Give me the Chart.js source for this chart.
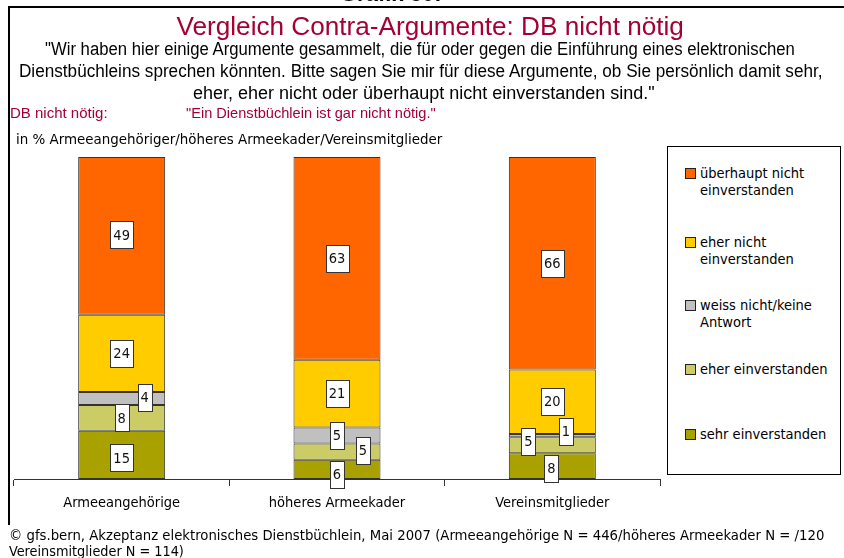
<!DOCTYPE html>
<html><head><meta charset="utf-8">
<script src="https://cdn.jsdelivr.net/npm/chart.js@4.4.1/dist/chart.umd.min.js"></script>
<style>
html,body{margin:0;padding:0;background:#fff;}
body{width:844px;height:558px;position:relative;overflow:hidden;}
#c{position:absolute;left:0;top:0;}
.t{position:absolute;white-space:nowrap;font-family:"Liberation Sans",Arial,sans-serif;color:#000;line-height:1;}
.tah{font-family:"DejaVu Sans Condensed","DejaVu Sans",sans-serif;font-stretch:condensed;}
.frameTop{position:absolute;left:8px;top:6px;width:836px;height:2px;background:#000;}
.frameLeft{position:absolute;left:8px;top:6px;width:2px;height:519px;background:#000;}
#legend{position:absolute;left:667px;top:146px;width:174px;height:329px;border:1px solid #000;box-sizing:border-box;background:#fff;}
.li{position:absolute;left:17px;font-family:"DejaVu Sans Condensed","DejaVu Sans",sans-serif;font-stretch:condensed;font-size:14.5px;line-height:17px;color:#000;}
.sw{position:absolute;left:0;top:3px;width:9px;height:9px;border:1px solid #222;}
.lt{position:absolute;left:15px;top:0;white-space:nowrap;}
</style></head><body>
<canvas id="c" width="844" height="558"></canvas>
<div class="frameTop"></div><div class="frameLeft"></div>
<div class="t" style="left:340px;top:-17px;font-weight:bold;font-size:22px;">Grafik 30:</div>
<div class="t fit" data-cx="429.5" data-w="507" style="top:13px;font-size:26px;color:#A50034;">Vergleich Contra-Argumente: DB nicht nötig</div>
<div class="t fit" data-cx="420" data-w="750" style="top:40px;font-size:18px;">"Wir haben hier einige Argumente gesammelt, die für oder gegen die Einführung eines elektronischen</div>
<div class="t fit" data-cx="420.5" data-w="803" style="top:62px;font-size:18px;">Dienstbüchleins sprechen könnten. Bitte sagen Sie mir für diese Argumente, ob Sie persönlich damit sehr,</div>
<div class="t fit" data-cx="424" data-w="462" style="top:84px;font-size:18px;">eher, eher nicht oder überhaupt nicht einverstanden sind."</div>
<div class="t" style="left:10px;top:105px;font-size:15px;color:#A50034;">DB nicht nötig:</div>
<div class="t fit" data-l="186" data-w="250" style="top:105px;font-size:15px;color:#A50034;">"Ein Dienstbüchlein ist gar nicht nötig."</div>
<div class="t tah fit" data-l="16" data-w="426" style="top:132px;font-size:14.5px;">in % Armeeangehöriger/höheres Armeekader/Vereinsmitglieder</div>
<div class="t tah fit" data-l="9" data-w="815" style="top:528px;font-size:14.3px;">© gfs.bern, Akzeptanz elektronisches Dienstbüchlein, Mai 2007 (Armeeangehörige N = 446/höheres Armeekader N = /120</div>
<div class="t tah" style="left:9px;top:544px;font-size:14.3px;">Vereinsmitglieder N = 114)</div>
<div id="legend"></div>
<script>
const categories = ["Armeeangehörige", "höheres Armeekader", "Vereinsmitglieder"];
const seriesNames = ["sehr einverstanden", "eher einverstanden", "weiss nicht/keine Antwort", "eher nicht einverstanden", "überhaupt nicht einverstanden"];
const sehrEinverstanden = [15, 6, 8];
const eherEinverstanden = [8, 5, 5];
const weissNicht = [4, 5, 1];
const eherNichtEinverstanden = [24, 21, 20];
const ueberhauptNichtEinverstanden = [49, 63, 66];
const legendLines = [["sehr einverstanden"], ["eher einverstanden"], ["weiss nicht/keine", "Antwort"], ["eher nicht", "einverstanden"], ["überhaupt nicht", "einverstanden"]];

const colors = ["#A9A100", "#CCCC66", "#C0C0C0", "#FFCC00", "#FF6600"];
// label box offsets [dx, dy] per series, per category (layout only)
const labelOffsets = [
  [[0, 3], [0, 5], [-1, 2.5]],
  [[0, 0], [26, -1.5], [-24, -3.5]],
  [[23, -1], [0, 0], [13.5, -4]],
  [[0, 0], [0, 0], [0, 0]],
  [[0, -1], [0, 0], [0, 0]]
];
const allSeries = [sehrEinverstanden, eherEinverstanden, weissNicht, eherNichtEinverstanden, ueberhauptNichtEinverstanden];
const labelFont = '14.5px "DejaVu Sans Condensed", "DejaVu Sans", sans-serif';

// fit text widths
document.querySelectorAll('.fit').forEach(el => {
  const w = el.offsetWidth;
  const target = parseFloat(el.dataset.w);
  const s = target / w;
  if (el.dataset.cx !== undefined) {
    el.style.left = (parseFloat(el.dataset.cx) - w / 2) + 'px';
    el.style.transformOrigin = '50% 50%';
  } else {
    el.style.left = el.dataset.l + 'px';
    el.style.transformOrigin = '0 50%';
  }
  el.style.transform = 'scaleX(' + s.toFixed(4) + ')';
});

const boxLabels = {
  id: 'boxLabels',
  afterDatasetsDraw(chart) {
    const ctx = chart.ctx;
    ctx.save();
    ctx.font = labelFont;
    ctx.textAlign = 'center';
    ctx.textBaseline = 'middle';
    chart.data.datasets.forEach((ds, i) => {
      const meta = chart.getDatasetMeta(i);
      meta.data.forEach((el, j) => {
        const txt = String(ds.data[j]);
        const off = labelOffsets[i][j];
        const cx = el.x + off[0];
        const cy = (el.y + el.base) / 2 + off[1];
        const w = Math.round(ctx.measureText(txt).width + 6);
        const h = 27;
        const x0 = Math.round(cx - w / 2) + 0.5, y0 = Math.round(cy - h / 2) + 0.5;
        ctx.fillStyle = '#fff';
        ctx.fillRect(x0, y0, w, h);
        ctx.strokeStyle = '#333';
        ctx.lineWidth = 1;
        ctx.strokeRect(x0, y0, w, h);
        ctx.fillStyle = '#111';
        ctx.fillText(txt, cx, cy + 1);
      });
    });
    ctx.restore();
  }
};

const chart = new Chart(document.getElementById('c'), {
  type: 'bar',
  data: {
    labels: categories,
    datasets: allSeries.map((d, i) => ({
      label: seriesNames[i],
      data: d,
      backgroundColor: colors[i],
      borderColor: '#333',
      borderWidth: 1,
      borderSkipped: false,
      barPercentage: 0.404,
      categoryPercentage: 1
    }))
  },
  options: {
    responsive: false,
    animation: false,
    layout: { padding: { left: 14, right: 184, top: 157, bottom: 0 } },
    plugins: { legend: { display: false }, tooltip: { enabled: false } },
    scales: {
      x: {
        stacked: true,
        grid: { offset: true, drawOnChartArea: false, drawTicks: true, tickLength: 7, color: '#333' },
        border: { display: true, color: '#333', width: 1 },
        ticks: { padding: 9, color: '#000', font: { family: '"DejaVu Sans Condensed", "DejaVu Sans", sans-serif', size: 14.5 } },
        afterFit(s) { s.height = 79; }
      },
      y: { stacked: true, display: false, min: 0, max: 100 }
    }
  },
  plugins: [boxLabels]
});

// HTML legend built from datasets, top to bottom reversed
const legend = document.getElementById('legend');
const tops = [17.5, 86.5, 150, 214, 279];
for (let k = 0; k < 5; k++) {
  const i = 4 - k;
  const item = document.createElement('div');
  item.className = 'li';
  item.style.top = tops[k] + 'px';
  const sw = document.createElement('div');
  sw.className = 'sw';
  sw.style.background = chart.data.datasets[i].backgroundColor;
  const lt = document.createElement('div');
  lt.className = 'lt';
  lt.innerHTML = legendLines[i].join('<br>');
  item.appendChild(sw); item.appendChild(lt);
  legend.appendChild(item);
}
</script>
</body></html>
